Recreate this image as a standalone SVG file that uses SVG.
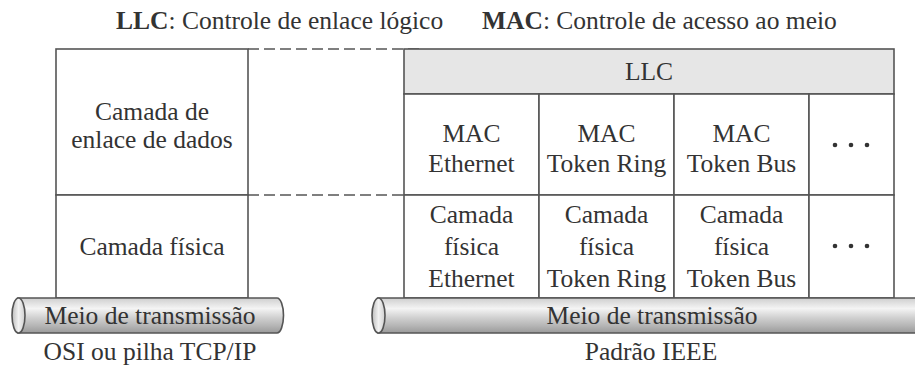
<svg xmlns="http://www.w3.org/2000/svg" width="915" height="365" viewBox="0 0 915 365">
<defs>
<linearGradient id="tube" x1="0" y1="0" x2="0" y2="1">
<stop offset="0" stop-color="#cfcfcf"/>
<stop offset="0.3" stop-color="#f4f4f4"/>
<stop offset="0.55" stop-color="#d2d2d2"/>
<stop offset="0.8" stop-color="#b4b4b4"/>
<stop offset="1" stop-color="#9a9a9a"/>
</linearGradient>
<linearGradient id="tubeEnd" x1="0" y1="0" x2="1" y2="0">
<stop offset="0" stop-color="#bdbdbd"/>
<stop offset="0.5" stop-color="#f2f2f2"/>
<stop offset="1" stop-color="#d0d0d0"/>
</linearGradient>
</defs>
<style>
text{font-family:"Times New Roman","Liberation Serif",serif;font-size:25.5px;fill:#333;text-anchor:middle}
.l{text-anchor:start}
.b{font-weight:bold}
.box{fill:#fff;stroke:#555;stroke-width:1.6}
.llc{fill:#e6e6e6;stroke:#555;stroke-width:1.6}
.dash{stroke:#555;stroke-width:1.6;fill:none;stroke-dasharray:11 5}
.tb{fill:url(#tube);stroke:#555;stroke-width:1.6}
.te{fill:url(#tubeEnd);stroke:#555;stroke-width:1.6}
.dot{fill:#333}
</style>
<rect width="915" height="365" fill="#fff"/>
<g id="title">
<text class="l" x="116" y="29"><tspan class="b">LLC</tspan>: Controle de enlace lógico</text>
<text class="l" x="482" y="29"><tspan class="b">MAC</tspan>: Controle de acesso ao meio</text>
</g>
<g id="connectors">
<line class="dash" x1="248" y1="49" x2="420" y2="49"/>
<line class="dash" x1="248" y1="195" x2="420" y2="195"/>
</g>
<g id="osi-datalink">
<rect class="box" x="56" y="49" width="192" height="146"/>
<text x="152" y="120">Camada de</text>
<text x="152" y="148">enlace de dados</text>
</g>
<g id="osi-physical">
<rect class="box" x="56" y="195" width="192" height="103"/>
<text x="152" y="255">Camada física</text>
</g>
<g id="ieee-llc">
<rect class="llc" x="404" y="49" width="490" height="45"/>
<text x="649" y="80">LLC</text>
</g>
<g id="mac-ethernet">
<rect class="box" x="404" y="94" width="135" height="101"/>
<text x="471.5" y="142">MAC</text>
<text x="471.5" y="172">Ethernet</text>
</g>
<g id="mac-tokenring">
<rect class="box" x="539" y="94" width="135" height="101"/>
<text x="606.5" y="142">MAC</text>
<text x="606.5" y="172">Token Ring</text>
</g>
<g id="mac-tokenbus">
<rect class="box" x="674" y="94" width="135" height="101"/>
<text x="741.5" y="142">MAC</text>
<text x="741.5" y="172">Token Bus</text>
</g>
<g id="mac-more">
<rect class="box" x="809" y="94" width="85" height="101"/>
<circle class="dot" cx="835" cy="145" r="2.3"/>
<circle class="dot" cx="851" cy="145" r="2.3"/>
<circle class="dot" cx="867" cy="145" r="2.3"/>
</g>
<g id="phy-ethernet">
<rect class="box" x="404" y="195" width="135" height="103"/>
<text x="471.5" y="223">Camada</text>
<text x="471.5" y="255">física</text>
<text x="471.5" y="287">Ethernet</text>
</g>
<g id="phy-tokenring">
<rect class="box" x="539" y="195" width="135" height="103"/>
<text x="606.5" y="223">Camada</text>
<text x="606.5" y="255">física</text>
<text x="606.5" y="287">Token Ring</text>
</g>
<g id="phy-tokenbus">
<rect class="box" x="674" y="195" width="135" height="103"/>
<text x="741.5" y="223">Camada</text>
<text x="741.5" y="255">física</text>
<text x="741.5" y="287">Token Bus</text>
</g>
<g id="phy-more">
<rect class="box" x="809" y="195" width="85" height="103"/>
<circle class="dot" cx="835" cy="246" r="2.3"/>
<circle class="dot" cx="851" cy="246" r="2.3"/>
<circle class="dot" cx="867" cy="246" r="2.3"/>
</g>
<g id="osi-medium">
<path class="tb" d="M18,298 H277 A6.5,17.5 0 0 1 277,333 H18 Z"/>
<ellipse class="te" cx="18.5" cy="315.5" rx="6.5" ry="17.5"/>
<text x="150" y="324">Meio de transmissão</text>
</g>
<g id="ieee-medium">
<path class="tb" d="M378,298 H930 V333 H378 Z"/>
<ellipse class="te" cx="378.5" cy="315.5" rx="6.5" ry="17.5"/>
<text x="652" y="324">Meio de transmissão</text>
</g>
<g id="labels">
<text x="150" y="360">OSI ou pilha TCP/IP</text>
<text x="651" y="360">Padrão IEEE</text>
</g>
</svg>
